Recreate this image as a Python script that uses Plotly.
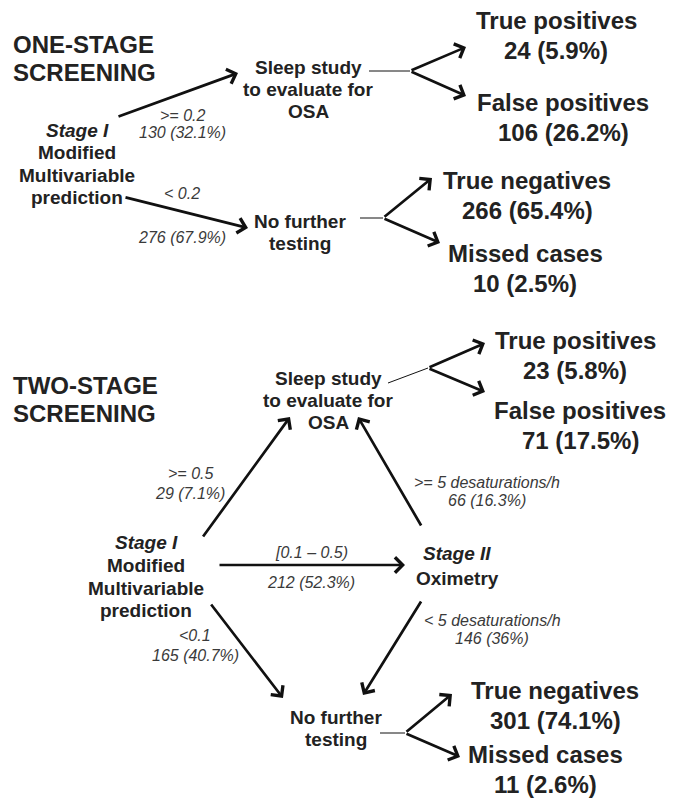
import plotly.graph_objects as go

W, H = 685, 800
PAGE_PAD = 8  # browser body margin; shift the axes so data units equal page pixels
INK = "#222222"
LABEL_INK = "#3a3a3a"
FONT = "Liberation Sans, Arial, sans-serif"

# ---- one-stage screening ----
one_thresholds = [">= 0.2", "< 0.2"]
one_branch_n = [130, 276]
one_branch_pct = [32.1, 67.9]
one_outcomes = ["True positives", "False positives", "True negatives", "Missed cases"]
one_outcome_n = [24, 106, 266, 10]
one_outcome_pct = [5.9, 26.2, 65.4, 2.5]

# ---- two-stage screening ----
two_thresholds = [">= 0.5", "[0.1 \u2013 0.5)", "<0.1"]
two_branch_n = [29, 212, 165]
two_branch_pct = [7.1, 52.3, 40.7]
oxi_thresholds = [">= 5 desaturations/h", "< 5 desaturations/h"]
oxi_branch_n = [66, 146]
oxi_branch_pct = [16.3, 36]
two_outcomes = ["True positives", "False positives", "True negatives", "Missed cases"]
two_outcome_n = [23, 71, 301, 11]
two_outcome_pct = [5.8, 17.5, 74.1, 2.6]


def count(n, p):
    return f"{n} ({p:g}%)"


fig = go.Figure()
annotations = []
shapes = []


def text(x, y, s, size=19, bold=True, italic=False, color=INK, xanchor="center"):
    if italic:
        s = f"<i>{s}</i>"
    if bold:
        s = f"<b>{s}</b>"
    annotations.append(dict(x=x, y=y, text=s, showarrow=False, xanchor=xanchor,
                            yanchor="middle", borderpad=0,
                            font=dict(family=FONT, size=size, color=color)))


def block(x, ys, lines, **kw):
    for y, s in zip(ys, lines):
        text(x, y, s, **kw)


def arrow(x0, y0, x1, y1, width=2.7):
    annotations.append(dict(x=x1, y=y1, ax=x0, ay=y0, xref="x", yref="y", axref="x", ayref="y",
                            text="", showarrow=True, arrowhead=4, arrowsize=1.1,
                            arrowwidth=width, arrowcolor="#111111", standoff=0, startstandoff=0))


def line(x0, y0, x1, y1, width=1):
    shapes.append(dict(type="line", x0=x0, y0=y0, x1=x1, y1=y1, xref="x", yref="y",
                       line=dict(color="#111111", width=width)))


def label(x, y, s):
    text(x, y, s, size=16, bold=False, italic=True, color=LABEL_INK)


def outcome(x, y, name, n, p):
    text(x, y, name, size=24)
    text(x, y + 30, count(n, p), size=24)


def fork(x0, y0, xm, ym, xa, ya, xb, yb):
    line(x0, y0, xm, ym)
    arrow(xm, ym, xa, ya)
    arrow(xm, ym, xb, yb)


# ================= ONE-STAGE =================
block(12, [44, 72], ["ONE-STAGE", "SCREENING"], size=24, xanchor="left")

text(77, 130, "Stage I", italic=True)
block(77, [152, 175, 197], ["Modified", "Multivariable", "prediction"])

block(308, [67, 89, 111], ["Sleep study", "to evaluate for", "OSA"])
block(300, [221, 243], ["No further", "testing"])

arrow(117, 117, 238, 73)
label(182, 115, one_thresholds[0])
label(182, 132, count(one_branch_n[0], one_branch_pct[0]))

arrow(124, 197, 248, 228)
label(182, 193, one_thresholds[1])
label(182, 237, count(one_branch_n[1], one_branch_pct[1]))

fork(369, 71, 410, 71, 466, 47, 466, 96)
outcome(556, 20, one_outcomes[0], one_outcome_n[0], one_outcome_pct[0])
outcome(563, 102, one_outcomes[1], one_outcome_n[1], one_outcome_pct[1])

fork(360, 218, 383, 218, 432, 178, 440, 243)
outcome(527, 180, one_outcomes[2], one_outcome_n[2], one_outcome_pct[2])
outcome(525, 253, one_outcomes[3], one_outcome_n[3], one_outcome_pct[3])

# ================= TWO-STAGE =================
block(12, [385, 413], ["TWO-STAGE", "SCREENING"], size=24, xanchor="left")

block(328, [378, 400, 422], ["Sleep study", "to evaluate for", "OSA"])
text(146, 542, "Stage I", italic=True)
block(146, [565, 588, 610], ["Modified", "Multivariable", "prediction"])
text(457, 553, "Stage II", italic=True)
text(457, 578, "Oximetry")
block(336, [717, 739], ["No further", "testing"])

arrow(202, 538, 290, 417)
label(190, 473, two_thresholds[0])
label(190, 493, count(two_branch_n[0], two_branch_pct[0]))

arrow(218, 565, 405, 565)
label(311, 552, two_thresholds[1])
label(311, 582, count(two_branch_n[1], two_branch_pct[1]))

arrow(210, 603, 283, 698)
label(195, 635, two_thresholds[2])
label(195, 655, count(two_branch_n[2], two_branch_pct[2]))

arrow(422, 527, 358, 417)
label(487, 482, oxi_thresholds[0])
label(487, 500, count(oxi_branch_n[0], oxi_branch_pct[0]))

arrow(422, 600, 363, 695)
label(492, 620, oxi_thresholds[1])
label(492, 638, count(oxi_branch_n[1], oxi_branch_pct[1]))

fork(388, 383, 428, 368, 485, 343, 485, 392)
outcome(575, 340, two_outcomes[0], two_outcome_n[0], two_outcome_pct[0])
outcome(580, 410, two_outcomes[1], two_outcome_n[1], two_outcome_pct[1])

fork(380, 733, 405, 733, 452, 694, 460, 757)
outcome(555, 690, two_outcomes[2], two_outcome_n[2], two_outcome_pct[2])
outcome(545, 754, two_outcomes[3], two_outcome_n[3], two_outcome_pct[3])

fig.update_layout(
    width=W, height=H,
    margin=dict(l=0, r=0, t=0, b=0),
    paper_bgcolor="white", plot_bgcolor="white",
    xaxis=dict(range=[PAGE_PAD, W + PAGE_PAD], visible=False, fixedrange=True),
    yaxis=dict(range=[H + PAGE_PAD, PAGE_PAD], visible=False, fixedrange=True),
    annotations=annotations,
    shapes=shapes,
    showlegend=False,
)

fig.write_html("out.html")
